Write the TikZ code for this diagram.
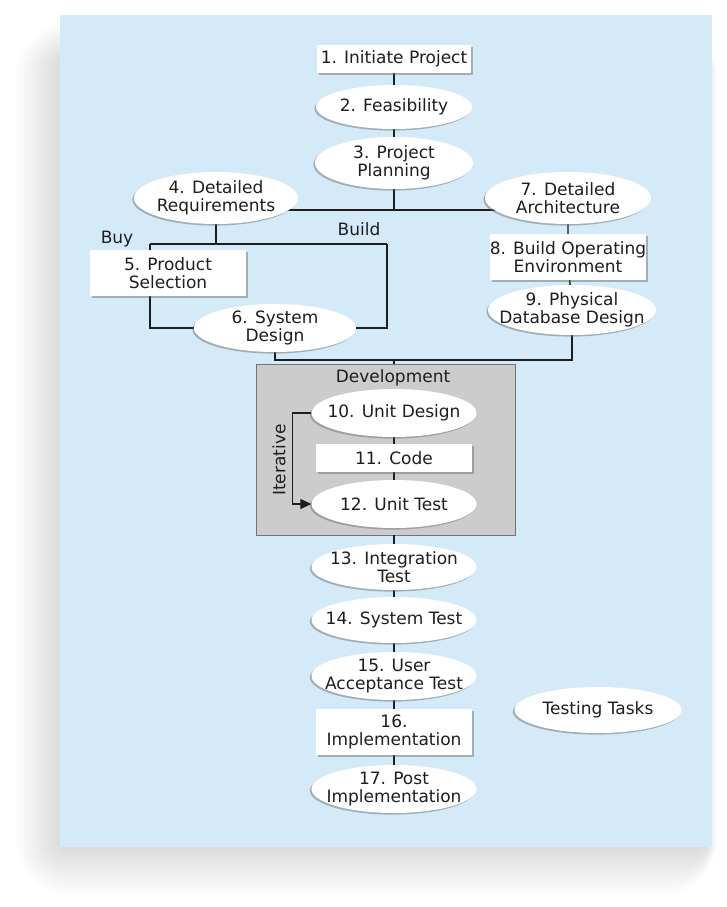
\documentclass[tikz,border=0pt]{standalone}
\usepackage{fontspec}
\setmainfont{DejaVu Sans}
\usetikzlibrary{shapes.geometric,shadows,arrows.meta}
\pgfdeclarelayer{panel}
\pgfdeclarelayer{lines}
\pgfsetlayers{panel,lines,main}
\definecolor{panelblue}{RGB}{213,234,248}
\definecolor{devgray}{RGB}{204,204,204}
\definecolor{ink}{RGB}{30,30,30}
\begin{document}
\begin{tikzpicture}[x=1pt,y=-1pt,
  txt/.style={font=\fontsize{17}{17.5}\selectfont, text=ink, align=center, inner sep=0pt},
  ell/.style={ellipse, fill=white, inner sep=0pt, minimum width=165pt, minimum height=46pt,
    drop shadow={shadow xshift=-1.6pt, shadow yshift=-1.6pt, fill=black!60, opacity=0.45}},
  box/.style={rectangle, fill=white, inner sep=0pt, minimum width=156pt, minimum height=46pt,
    drop shadow={shadow xshift=1.6pt, shadow yshift=-1.6pt, fill=black!60, opacity=0.45}},
  conn/.style={line width=1.4pt, ink},
  lbl/.style={txt}
]
\useasboundingbox (0,0) rectangle (727,907);
\begin{pgfonlayer}{panel}
  \fill[white] (0,0) rectangle (727,907);
  \foreach \i in {1,...,18} {
    \fill[black, opacity=0.008, rounded corners=2+3*\i] (62-2.6*\i, 62-2.2*\i) rectangle (706+0.6*\i, 845+2.8*\i);
  }
  \fill[panelblue] (60,15) rectangle (712,847);
  \node[draw=black!55, line width=0.8pt, fill=devgray, minimum width=259pt, minimum height=171pt, inner sep=0pt] (dev) at (385.5,449.5) {};
\end{pgfonlayer}

% nodes
\node[box, minimum height=28pt, minimum width=154pt, label={[txt]center:1. Initiate Project}] (n1) at (394,59) {};
\node[ell, minimum width=156pt, minimum height=44pt, label={[txt]center:2. Feasibility}] (n2) at (394,107) {};
\node[ell, minimum width=158pt, minimum height=52pt, label={[txt]center:3. Project\\Planning}] (n3) at (394,163) {};
\node[ell, minimum width=164pt, minimum height=52pt, label={[txt]center:4. Detailed\\Requirements}] (n4) at (216,198) {};
\node[ell, minimum width=166pt, minimum height=52pt, label={[txt]center:7. Detailed\\Architecture}] (n7) at (568,198) {};
\node[box, label={[txt]center:5. Product\\Selection}] (n5) at (168,273) {};
\node[ell, minimum width=162pt, minimum height=48pt, label={[txt]center:6. System\\Design}] (n6) at (275,328) {};
\node[box, label={[txt]center:8. Build Operating\\Environment}] (n8) at (568,257) {};
\node[ell, minimum width=168pt, minimum height=50pt, label={[txt]center:9. Physical\\Database Design}] (n9) at (572,310) {};
\node[lbl] (devl) at (393,378) {Development};
\node[ell, minimum height=48pt, label={[txt]center:10. Unit Design}] (n10) at (394,413) {};
\node[box, minimum height=28pt, label={[txt]center:11. Code}] (n11) at (394,458) {};
\node[ell, minimum height=48pt, label={[txt]center:12. Unit Test}] (n12) at (394,504) {};
\node[lbl, rotate=90] (iter) at (279,460) {Iterative};
\node[ell, label={[txt]center:13. Integration\\Test}] (n13) at (394,567) {};
\node[ell, label={[txt]center:14. System Test}] (n14) at (394,620) {};
\node[ell, minimum height=48pt, label={[txt]center:15. User\\Acceptance Test}] (n15) at (394,676) {};
\node[box, label={[txt]center:16.\\Implementation}] (n16) at (394,732) {};
\node[ell, minimum height=48pt, label={[txt]center:17. Post\\Implementation}] (n17) at (394,789) {};
\node[ell, minimum width=167pt, label={[txt]center:Testing Tasks}] (tt) at (598,710) {};
\node[lbl] (buy) at (117,239) {Buy};
\node[lbl] (build) at (359,229) {Build};

\coordinate (j1) at (394,210);
\coordinate (bl) at (150,244);
\coordinate (br) at (387,244);
\coordinate (j2) at (394,360);

\begin{pgfonlayer}{lines}
  \draw[conn] (n1) -- (n2);
  \draw[conn] (n2) -- (n3);
  \draw[conn] (n3) -- (j1);
  \draw[conn] (n4 |- j1) -- (n7 |- j1);
  \draw[conn] (n4) -- (n4 |- bl);
  \draw[conn] (bl) -- (br);
  \draw[conn] (bl) -- (bl |- n6) -- (n6);
  \draw[conn] (br) -- (br |- n6) -- (n6);
  \draw[conn] (n7) -- (n8) -- (n9);
  \draw[conn] (n6) -- (n6 |- j2) -- (n9 |- j2) -- (n9);
  \draw[conn] (j2) -- (j2 |- dev.north);
  \draw[conn] (n10) -- (n11) -- (n12);
  \draw[conn] (n13 |- dev.south) -- (n13);
  \draw[conn] (n13) -- (n14) -- (n15) -- (n16) -- (n17);
\end{pgfonlayer}
\draw[conn, line width=1.3pt, -{Triangle[length=11pt, width=10pt]}] (n10.west) -- ++(-19,0) |- (n12.west);
\end{tikzpicture}
\end{document}
